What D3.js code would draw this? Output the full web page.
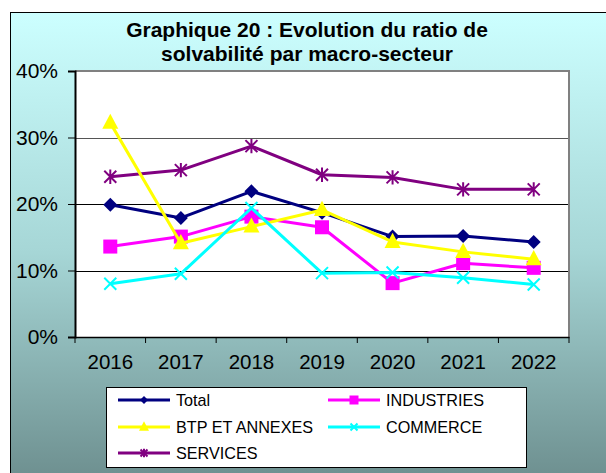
<!DOCTYPE html>
<html><head><meta charset="utf-8">
<script src="https://cdn.jsdelivr.net/npm/d3@7"></script>
<style>html,body{margin:0;padding:0;background:#fff;}svg{display:block;}</style>
</head><body>
<svg id="c" width="606" height="473"></svg>
<script>
const titleLines = ["Graphique 20 : Evolution du ratio de", "solvabilité par macro-secteur"];
const years = ["2016", "2017", "2018", "2019", "2020", "2021", "2022"];
const yTicks = [0, 0.1, 0.2, 0.3, 0.4];
const seriesNames = ["Total", "INDUSTRIES", "BTP ET ANNEXES", "COMMERCE", "SERVICES"];
const total = [0.199, 0.179, 0.219, 0.187, 0.151, 0.152, 0.143];
const industries = [0.136, 0.151, 0.181, 0.165, 0.081, 0.111, 0.104];
const btp = [0.322, 0.141, 0.166, 0.191, 0.143, 0.128, 0.117];
const commerce = [0.080, 0.095, 0.194, 0.096, 0.097, 0.089, 0.079];
const services = [0.241, 0.251, 0.287, 0.244, 0.240, 0.222, 0.222];

const colors = ["#000080", "#FF00FF", "#FFFF00", "#00FFFF", "#800080"];
const markers = ["diamond", "square", "triangle", "x", "star"];
const values = [total, industries, btp, commerce, services];

const svg = d3.select("#c");
const defs = svg.append("defs");
const grad = defs.append("linearGradient").attr("id","bg").attr("x1",0).attr("y1",0).attr("x2",0).attr("y2",1);
grad.append("stop").attr("offset","0").attr("stop-color","#CCFFFF");
grad.append("stop").attr("offset","0.5").attr("stop-color","#A6D6D6");
grad.append("stop").attr("offset","1").attr("stop-color","#6A8B8B");

svg.append("rect").attr("x",10.5).attr("y",12.5).attr("width",620).attr("height",480)
  .attr("fill","url(#bg)").attr("stroke","#000").attr("stroke-width",1);

const tg = svg.append("g").attr("font-family","Arial, 'Liberation Sans', sans-serif")
  .attr("font-weight","bold").attr("font-size",21).attr("text-anchor","middle").attr("fill","#000");
titleLines.forEach((t,i)=> tg.append("text").attr("x",307).attr("y",37 + i*24).text(t));

const L = 75, R = 569, T = 71, B = 337;
const x = d3.scaleBand().domain(years).range([L, R]);
const y = d3.scaleLinear().domain([0, 0.4]).range([B, T]);

svg.append("rect").attr("x",L).attr("y",T).attr("width",R-L).attr("height",B-T).attr("fill","#fff");
// grid
svg.append("g").selectAll("line").data(yTicks.filter(v=>v>0 && v<0.4)).join("line")
  .attr("x1",L).attr("x2",R).attr("y1",d=>Math.round(y(d))+0.5).attr("y2",d=>Math.round(y(d))+0.5)
  .attr("stroke",d=>d===0.3?"#555":"#000").attr("stroke-width",1);
// top and right border gray
svg.append("path").attr("d",`M${L},${T} H${R} V${B}`).attr("fill","none").attr("stroke","#808080").attr("stroke-width",2);

// axes
const yAxis = d3.axisLeft(y).tickValues(yTicks).tickFormat(d3.format(".0%")).tickSize(7).tickPadding(10);
const gy = svg.append("g").attr("transform",`translate(${L},0)`).call(yAxis);
gy.select(".domain").attr("stroke","#000").attr("stroke-width",2);
gy.selectAll(".tick line").attr("stroke","#000");
gy.selectAll("text").attr("font-family","Arial, 'Liberation Sans', sans-serif").attr("font-size",21).attr("fill","#000");

const xAxis = d3.axisBottom(x).tickSize(0).tickPadding(14);
const gx = svg.append("g").attr("transform",`translate(0,${B})`).call(xAxis);
gx.select(".domain").attr("stroke","#000").attr("stroke-width",1.5);
gx.selectAll("text").attr("font-family","Arial, 'Liberation Sans', sans-serif").attr("font-size",20.5).attr("fill","#000").attr("dy","0.9em");
// category boundary ticks
const bounds = years.map(d=>x(d)).concat([R]);
svg.append("g").selectAll("line").data(bounds).join("line")
  .attr("x1",d=>d).attr("x2",d=>d).attr("y1",B).attr("y2",B+6).attr("stroke","#000").attr("stroke-width",1);

function drawMarker(g, type, cx, cy, s, color){
  if(type==="diamond"){
    g.append("path").attr("d",`M${cx},${cy-s} L${cx+s},${cy} L${cx},${cy+s} L${cx-s},${cy} Z`).attr("fill",color);
  } else if(type==="square"){
    g.append("rect").attr("x",cx-s).attr("y",cy-s).attr("width",2*s).attr("height",2*s).attr("fill",color);
  } else if(type==="triangle"){
    g.append("path").attr("d",`M${cx},${cy-s*1.15} L${cx+s},${cy+s*0.75} L${cx-s},${cy+s*0.75} Z`).attr("fill",color);
  } else if(type==="x"){
    g.append("path").attr("d",`M${cx-s},${cy-s} L${cx+s},${cy+s} M${cx-s},${cy+s} L${cx+s},${cy-s}`).attr("stroke",color).attr("stroke-width",2);
  } else if(type==="star"){
    g.append("path").attr("d",`M${cx-s},${cy-s} L${cx+s},${cy+s} M${cx-s},${cy+s} L${cx+s},${cy-s} M${cx},${cy-s*1.2} L${cx},${cy+s*1.2}`).attr("stroke",color).attr("stroke-width",2);
  }
}

const line = d3.line().x((d,i)=>x(years[i]) + x.bandwidth()/2).y(d=>y(d));
const sizes = [7, 7, 8, 6, 6];
const order = [4, 0, 1, 2, 3];
order.forEach(k=>{
  const g = svg.append("g");
  g.append("path").attr("d",line(values[k])).attr("fill","none").attr("stroke",colors[k]).attr("stroke-width",3).attr("stroke-linejoin","round");
  values[k].forEach((v,i)=> drawMarker(g, markers[k], x(years[i])+x.bandwidth()/2, y(v), sizes[k], colors[k]));
});

// legend
const lg = svg.append("g");
lg.append("rect").attr("x",106.5).attr("y",387.5).attr("width",420).attr("height",80).attr("fill","#fff").attr("stroke","#000").attr("stroke-width",1);
const legPos = [[118,400],[328,400],[118,427],[328,427],[118,453]];
const legSizes = [4, 4.5, 5, 3.5, 3.5];
seriesNames.forEach((n,k)=>{
  const [lx,ly] = legPos[k];
  lg.append("line").attr("x1",lx).attr("x2",lx+52).attr("y1",ly).attr("y2",ly).attr("stroke",colors[k]).attr("stroke-width",3);
  drawMarker(lg, markers[k], lx+26, ly, legSizes[k], colors[k]);
  lg.append("text").attr("x",lx+58).attr("y",ly).attr("dy","0.36em")
    .attr("font-family","Arial, 'Liberation Sans', sans-serif").attr("font-size",16.2).attr("fill","#000").text(n);
});
</script>
</body></html>
